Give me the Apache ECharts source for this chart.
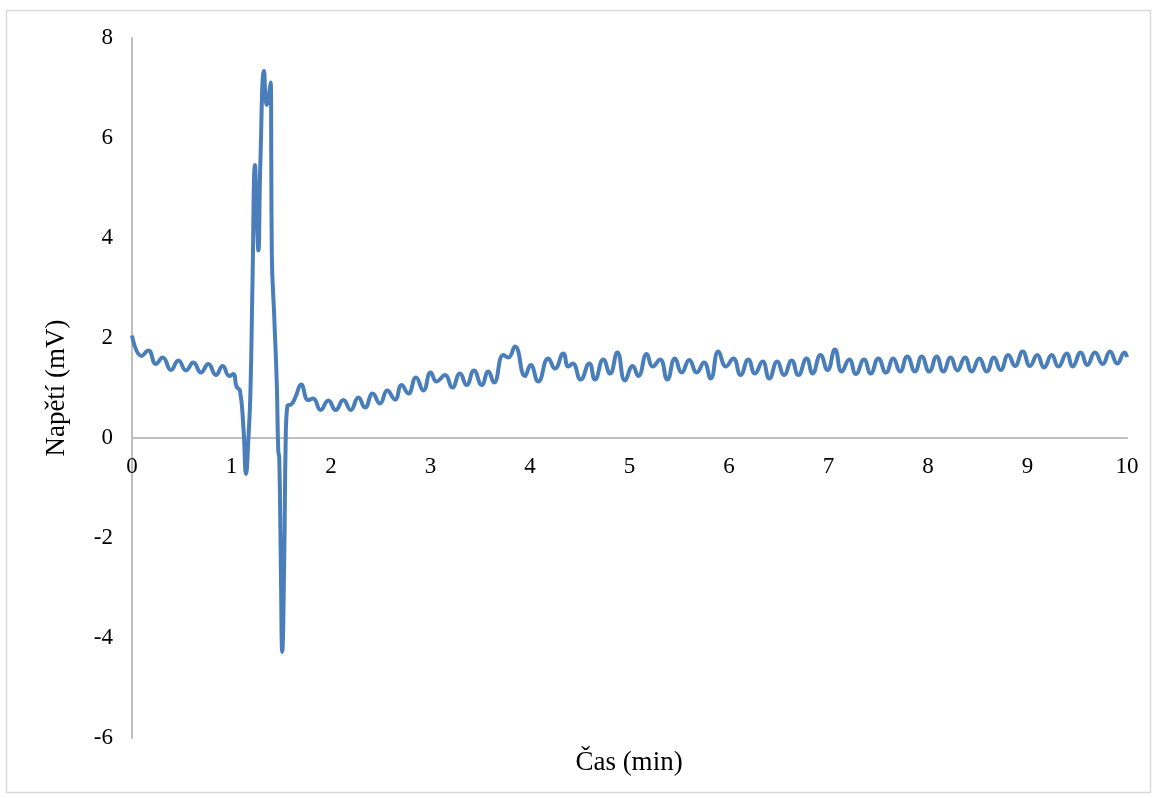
<!DOCTYPE html>
<html>
<head>
<meta charset="utf-8">
<script src="https://cdn.jsdelivr.net/npm/echarts@6/dist/echarts.min.js"></script>
<style>
html,body{margin:0;padding:0;background:#fff;}
#chart{width:1157px;height:798px;}
</style>
</head>
<body>
<div id="chart"></div>
<script>
// Time (min)
var timeMin = [
  0, 0.097, 0.164, 0.241, 0.308, 0.392, 0.466, 0.543, 0.616, 0.693,
  0.767, 0.844, 0.911, 0.978, 1.018, 1.052, 1.085, 1.12, 1.146, 1.17,
  1.19, 1.21, 1.236, 1.255, 1.27, 1.29, 1.327, 1.354, 1.394, 1.40,
  1.405, 1.43, 1.455, 1.47, 1.48, 1.495, 1.51, 1.53, 1.545, 1.56,
  1.605, 1.645, 1.70, 1.77, 1.82, 1.896, 1.973, 2.047, 2.124, 2.198,
  2.275, 2.342, 2.419, 2.492, 2.566, 2.643, 2.71, 2.777, 2.854, 2.928,
  3.002, 3.062, 3.146, 3.219, 3.296, 3.363, 3.437, 3.514, 3.581, 3.638,
  3.732, 3.782, 3.849, 3.95, 4.007, 4.083, 4.184, 4.251, 4.335, 4.385,
  4.429, 4.509, 4.596, 4.653, 4.737, 4.804, 4.878, 4.955, 5.032, 5.089,
  5.173, 5.233, 5.307, 5.38, 5.457, 5.525, 5.601, 5.675, 5.749, 5.816,
  5.893, 5.97, 6.043, 6.117, 6.194, 6.261, 6.338, 6.405, 6.485, 6.553,
  6.63, 6.697, 6.78, 6.84, 6.92, 6.99, 7.065, 7.133, 7.209, 7.276,
  7.357, 7.424, 7.501, 7.578, 7.651, 7.719, 7.792, 7.869, 7.937, 8.013,
  8.087, 8.154, 8.228, 8.295, 8.372, 8.439, 8.516, 8.59, 8.663, 8.73,
  8.807, 8.874, 8.952, 9.025, 9.098, 9.166, 9.243, 9.31, 9.394, 9.454,
  9.535, 9.601, 9.678, 9.756, 9.829, 9.902, 9.975, 10.0
];
// Voltage (mV)
var voltage = [
  2.05, 1.64, 1.75, 1.48, 1.61, 1.36, 1.55, 1.35, 1.51, 1.31,
  1.48, 1.26, 1.44, 1.24, 1.28, 1.02, 0.95, 0.2, -0.72, 0.0,
  0.9, 3.0, 5.46, 4.4, 3.75, 5.5, 7.34, 6.66, 7.11, 5.5,
  3.7, 2.4, 1.1, -0.25, -0.4, -2.4, -4.28, -2.4, 0.0, 0.63,
  0.68, 0.83, 1.07, 0.76, 0.79, 0.56, 0.75, 0.56, 0.76, 0.56,
  0.81, 0.61, 0.89, 0.69, 0.95, 0.77, 1.06, 0.89, 1.21, 0.95,
  1.31, 1.13, 1.26, 1.01, 1.29, 1.06, 1.35, 1.06, 1.33, 1.11,
  1.66, 1.61, 1.83, 1.24, 1.46, 1.13, 1.59, 1.39, 1.69, 1.43,
  1.49, 1.17, 1.49, 1.17, 1.57, 1.29, 1.71, 1.15, 1.44, 1.24,
  1.68, 1.43, 1.57, 1.17, 1.59, 1.31, 1.56, 1.31, 1.51, 1.19,
  1.73, 1.43, 1.59, 1.26, 1.57, 1.29, 1.53, 1.19, 1.53, 1.26,
  1.55, 1.26, 1.59, 1.29, 1.66, 1.36, 1.77, 1.33, 1.57, 1.28,
  1.57, 1.29, 1.59, 1.31, 1.59, 1.33, 1.63, 1.33, 1.63, 1.33,
  1.63, 1.33, 1.61, 1.35, 1.61, 1.33, 1.59, 1.33, 1.61, 1.36,
  1.66, 1.44, 1.73, 1.44, 1.66, 1.41, 1.66, 1.43, 1.69, 1.43,
  1.71, 1.46, 1.71, 1.48, 1.73, 1.49, 1.71, 1.62
];
var xTitle = 'Čas (min)';
var yTitle = 'Napětí (mV)';

var seriesData = timeMin.map(function (t, i) { return [t, voltage[i]]; });
var serif = "'Liberation Serif', 'Times New Roman', serif";

var chart = echarts.init(document.getElementById('chart'), null, {renderer: 'canvas'});
chart.setOption({
  animation: false,
  backgroundColor: '#ffffff',
  grid: {left: 132, right: 30, top: 38, bottom: 60, containLabel: false},
  xAxis: {
    type: 'value', min: 0, max: 10, interval: 1,
    offset: -300,
    axisLine: {show: true, onZero: false, lineStyle: {color: '#bfbfbf', width: 2}},
    axisTick: {show: false},
    splitLine: {show: false},
    axisLabel: {color: '#000', fontFamily: serif, fontSize: 23, margin: 17}
  },
  yAxis: {
    type: 'value', min: -6, max: 8, interval: 2,
    name: yTitle, nameLocation: 'middle', nameGap: 62,
    nameTextStyle: {color: '#000', fontFamily: serif, fontSize: 27},
    axisLine: {show: true, lineStyle: {color: '#bfbfbf', width: 2}},
    axisTick: {show: false},
    splitLine: {show: false},
    axisLabel: {color: '#000', fontFamily: serif, fontSize: 23, margin: 19}
  },
  graphic: [
    {type: 'rect', shape: {x: 6.5, y: 10.5, width: 1144, height: 782}, style: {fill: null, stroke: '#d9d9d9', lineWidth: 1.5}, z: -1},
    {type: 'text', x: 629, y: 763, style: {text: xTitle, font: '27px ' + serif, fill: '#000', textAlign: 'center', textVerticalAlign: 'middle'}}
  ],
  series: [{
    type: 'line',
    data: seriesData,
    smooth: 0.5,
    showSymbol: false,
    lineStyle: {color: '#4a7ebb', width: 4}
  }]
});
</script>
</body>
</html>
